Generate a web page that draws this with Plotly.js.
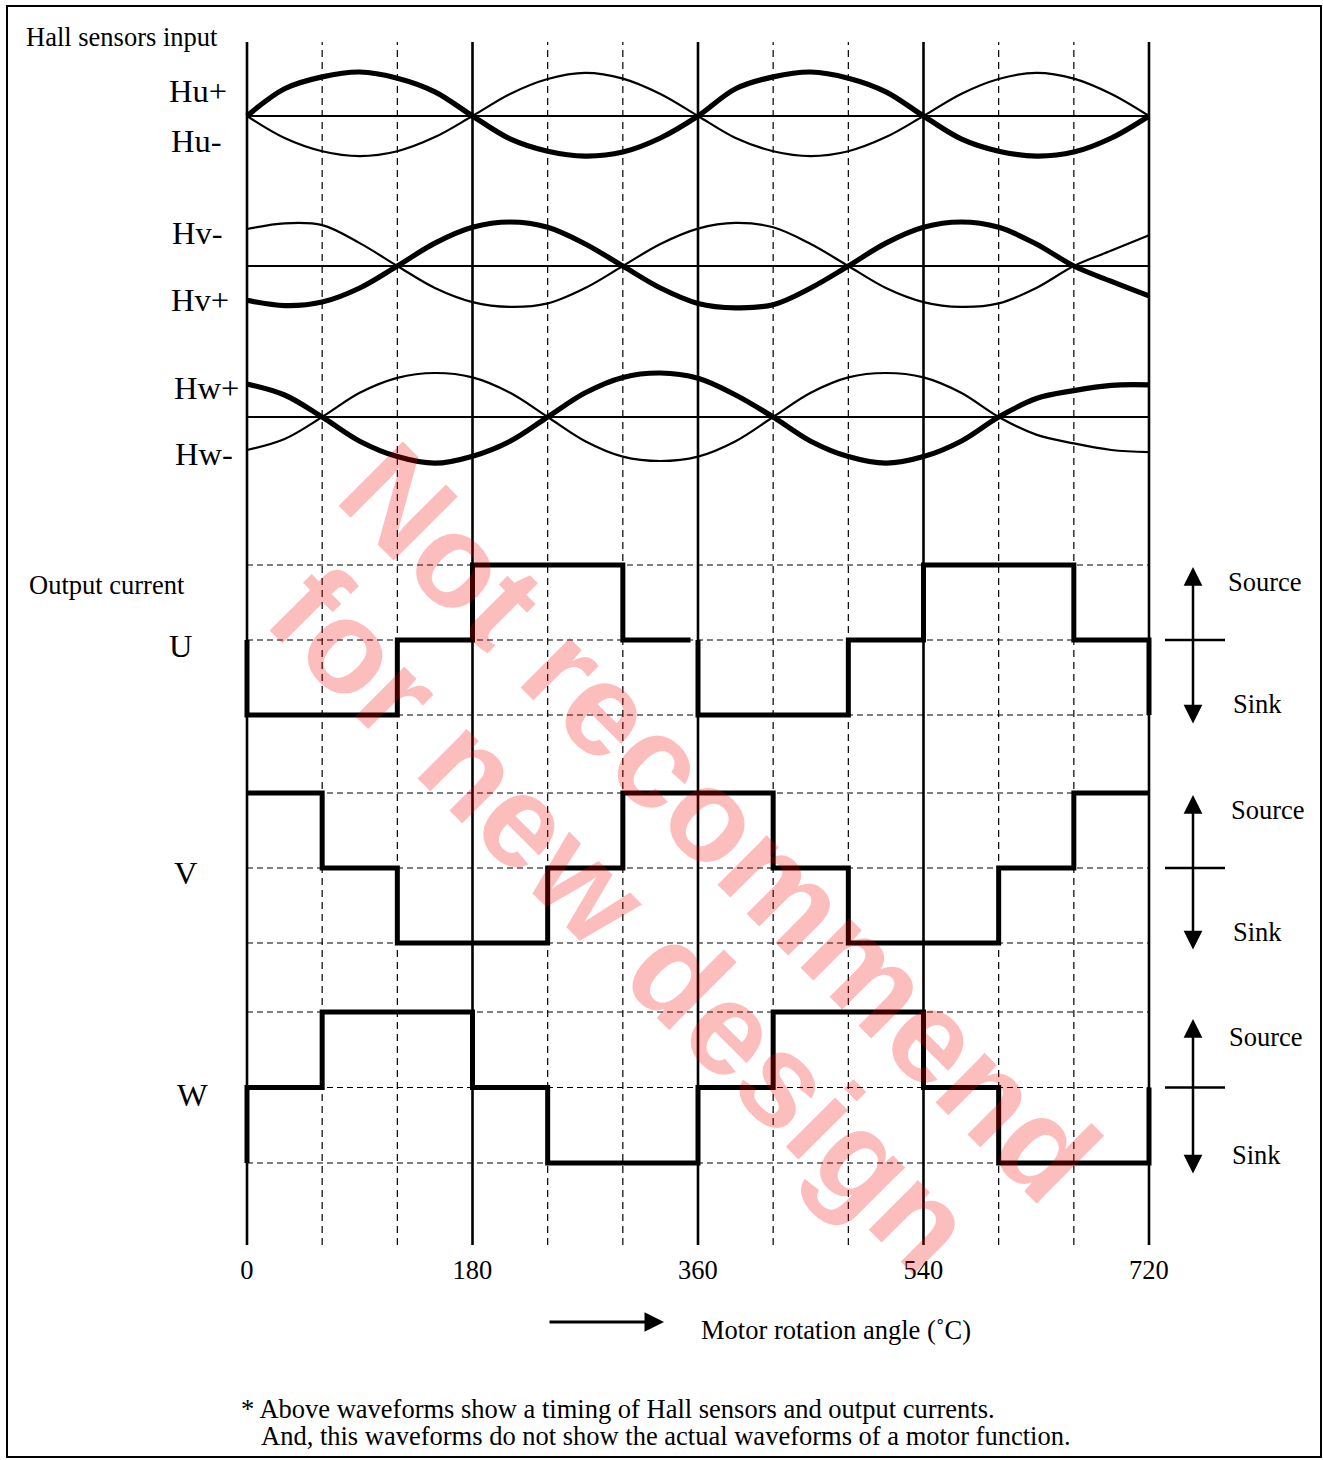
<!DOCTYPE html>
<html><head><meta charset="utf-8">
<script src="https://cdn.plot.ly/plotly-3.0.1.min.js"></script>
<style>html,body{margin:0;padding:0;background:#fff}</style>
</head><body>
<div id="chart" style="width:1323px;height:1460px"></div>
<script>
// ---------- data ----------
const HALL_ANGLE = [0,30,60,90,120,150,180,210,240,270,300,330,360,390,420,450,480,510,540,570,600,630,660,690,720];
const HU_PLUS  = [0,0.62,0.89,1.0,0.86,0.55,0,-0.52,-0.8,-0.91,-0.82,-0.5,0,0.62,0.89,1.0,0.86,0.55,0,-0.52,-0.8,-0.91,-0.82,-0.5,0];
const HU_MINUS = [0,-0.5,-0.8,-0.91,-0.8,-0.48,0,0.5,0.84,0.98,0.85,0.5,0,-0.5,-0.8,-0.91,-0.8,-0.48,0,0.5,0.84,0.98,0.85,0.5,0];
const HV_PLUS  = [-0.78,-0.9,-0.82,-0.5,0,0.52,0.88,1.0,0.88,0.5,0,-0.5,-0.85,-0.95,-0.88,-0.5,0,0.52,0.88,1.0,0.88,0.5,0,-0.35,-0.68];
const HV_MINUS = [0.84,0.97,0.93,0.52,0,-0.5,-0.82,-0.93,-0.85,-0.5,0,0.5,0.85,0.98,0.88,0.5,0,-0.5,-0.82,-0.93,-0.85,-0.5,0,0.35,0.7];
const HW_PLUS  = [0.75,0.5,0,-0.55,-0.9,-1.05,-0.89,-0.55,0,0.55,0.9,1.0,0.88,0.5,0,-0.55,-0.9,-1.05,-0.9,-0.55,0,0.42,0.6,0.72,0.73];
const HW_MINUS = [-0.75,-0.5,0,0.55,0.89,1.0,0.9,0.55,0,-0.55,-0.9,-1.0,-0.9,-0.55,0,0.55,0.9,1.0,0.9,0.55,0,-0.4,-0.6,-0.75,-0.8];

// output currents: 1 = source, 0 = off, -1 = sink
const U_ANGLE_A = [0,0,120,180,300,354];
const U_LEVEL_A = [0,-1,0,1,0,0];
const U_ANGLE_B = [360,360,480,540,660,720,720];
const U_LEVEL_B = [0,-1,0,1,0,0,-1];
const V_ANGLE = [0,60,120,240,300,420,480,600,660,720];
const V_LEVEL = [1,0,-1,0,1,0,-1,0,1,1];
const W_ANGLE = [0,0,60,180,240,360,420,540,600,720,720];
const W_LEVEL = [-1,0,1,0,-1,0,1,0,-1,-1,0];

const TICK_VALS = [0,180,360,540,720];
const TICK_TEXT = ['0','180','360','540','720'];
const MAJOR_ANGLES = [0,180,360,540,720];
const MINOR_ANGLES = [60,120,240,300,420,480,600,660];
const LEVELS = [-1,0,1];

// ---------- layout helpers ----------
const W = 1323, H = 1460;
const fx = p => p / W;
const fy = p => 1 - p / H;
const SERIF = 'Liberation Serif, Times New Roman, serif';
const PPD = (1149 - 247) / 720;           // pixels per degree
function yDom(c, a, R){ return [fy(c + R*a), fy(c - R*a)]; }
const HR = 1.3, OR = 1.12;
const TS = 26.5, LS = 32.5;

const hallStyle = (w) => ({color:'#000', width:w, shape:'spline', smoothing:1});
const outStyle = {color:'#000', width:5, shape:'hv'};

const traces = [
  {x:HALL_ANGLE, y:HU_MINUS, yaxis:'y',  line:hallStyle(2.2)},
  {x:HALL_ANGLE, y:HU_PLUS,  yaxis:'y',  line:hallStyle(5.2)},
  {x:HALL_ANGLE, y:HV_MINUS, yaxis:'y2', line:hallStyle(2.2)},
  {x:HALL_ANGLE, y:HV_PLUS,  yaxis:'y2', line:hallStyle(5.2)},
  {x:HALL_ANGLE, y:HW_MINUS, yaxis:'y3', line:hallStyle(2.2)},
  {x:HALL_ANGLE, y:HW_PLUS,  yaxis:'y3', line:hallStyle(5.2)},
  {x:U_ANGLE_A, y:U_LEVEL_A, yaxis:'y4', line:outStyle},
  {x:U_ANGLE_B, y:U_LEVEL_B, yaxis:'y4', line:outStyle},
  {x:V_ANGLE, y:V_LEVEL, yaxis:'y5', line:outStyle},
  {x:W_ANGLE, y:W_LEVEL, yaxis:'y6', line:outStyle}
].map(t => Object.assign({type:'scatter', mode:'lines', xaxis:'x', hoverinfo:'skip', showlegend:false}, t));

const hiddenY = (dom, R) => ({domain:dom, range:[-R,R], visible:false, anchor:'x', fixedrange:true});

const shapes = [];
// frame
shapes.push({type:'rect', xref:'paper', yref:'paper', x0:fx(7), x1:fx(1321), y0:fy(1457), y1:fy(6), line:{color:'#000', width:2}});
// vertical lines
MAJOR_ANGLES.forEach(a => shapes.push({type:'line', layer:'below', xref:'x', yref:'paper', x0:a, x1:a, y0:fy(1245), y1:fy(42), line:{color:'#000', width:2.6}}));
MINOR_ANGLES.forEach(a => shapes.push({type:'line', layer:'below', xref:'x', yref:'paper', x0:a, x1:a, y0:fy(1245), y1:fy(42), line:{color:'#000', width:1.2, dash:'7px,5px'}}));
// hall centre lines
['y','y2','y3'].forEach(ax => shapes.push({type:'line', layer:'below', xref:'x', yref:ax, x0:0, x1:720, y0:0, y1:0, line:{color:'#000', width:1.8}}));
// output level grid
['y4','y5','y6'].forEach(ax => LEVELS.forEach(l => shapes.push({type:'line', layer:'below', xref:'x', yref:ax, x0:0, x1:720, y0:l, y1:l, line:{color:'#000', width:1.2, dash:'6px,4px'}})));
// source/sink cross bars
['y4','y5','y6'].forEach(ax => shapes.push({type:'line', xref:'paper', yref:ax, x0:fx(1165), x1:fx(1225), y0:0, y1:0, line:{color:'#000', width:2.5}}));

const ann = [];
function txt(t, x, y, size, xanchor){
  ann.push({text:t, xref:'paper', yref:'paper', x:fx(x), y:fy(y), xanchor:xanchor||'left', yanchor:'middle', showarrow:false, font:{family:SERIF, size:size, color:'#000'}});
}
txt('Hall sensors input', 24, 37, TS);
txt('Hu+', 167, 91, LS);
txt('Hu-', 169, 141, LS);
txt('Hv-', 170, 233, LS);
txt('Hv+', 169, 300, LS);
txt('Hw+', 172, 388, LS);
txt('Hw-', 173, 454, LS);
txt('Output current', 27, 585, TS);
txt('U', 181, 646, LS, 'center');
txt('V', 186, 873, LS, 'center');
txt('W', 192, 1095, LS, 'center');
txt('Source', 1226, 582, TS); txt('Sink', 1231, 704, TS);
txt('Source', 1229, 810, TS); txt('Sink', 1231, 932, TS);
txt('Source', 1227, 1037, TS); txt('Sink', 1230, 1155, TS);
txt('Motor rotation angle (˚C)', 699, 1330, TS);
txt('* Above waveforms show a timing of Hall sensors and output currents.', 239, 1409, TS);
txt('And, this waveforms do not show the actual waveforms of a motor function.', 259, 1436, TS);

// double arrows Source/Sink
[[567,725],[795,951],[1019,1175]].forEach(p => ann.push({
  text:'', xref:'paper', yref:'paper', x:fx(1193), y:fy(p[0]), ax:0, ay:p[1]-p[0],
  showarrow:true, arrowside:'end+start', arrowhead:2, startarrowhead:2, arrowsize:1.5, startarrowsize:1.5,
  arrowwidth:2.5, arrowcolor:'#000', standoff:0, startstandoff:0
}));
// rotation arrow
ann.push({text:'', xref:'paper', yref:'paper', x:fx(664), y:fy(1322), ax:-116, ay:0, showarrow:true,
  arrowhead:2, arrowsize:1.3, arrowwidth:3, arrowcolor:'#000', standoff:0});

// watermark
const WM = {family:'Liberation Sans, Arial, sans-serif', size:132, color:'rgba(245,0,0,0.26)', weight:'bold'};
ann.push({text:'Not recommend', xref:'paper', yref:'paper', x:fx(720), y:fy(822), textangle:45, showarrow:false, xanchor:'center', yanchor:'middle', font:WM});
ann.push({text:'for new design', xref:'paper', yref:'paper', x:fx(622), y:fy(918), textangle:45, showarrow:false, xanchor:'center', yanchor:'middle', font:WM});

const layout = {
  width:W, height:H, margin:{l:0,r:0,t:0,b:0}, paper_bgcolor:'#fff', plot_bgcolor:'rgba(0,0,0,0)',
  showlegend:false, hovermode:false,
  xaxis:{domain:[fx(247 - 12*PPD), fx(1149 + 12*PPD)], range:[-12,732], anchor:'free', position:fy(1251),
         showgrid:false, zeroline:false, showline:false, ticks:'', tickvals:TICK_VALS, ticktext:TICK_TEXT,
         tickfont:{family:SERIF, size:TS, color:'#000'}, fixedrange:true},
  yaxis:  hiddenY(yDom(116, 44, HR), HR),
  yaxis2: hiddenY(yDom(266, 44, HR), HR),
  yaxis3: hiddenY(yDom(417, 44, HR), HR),
  yaxis4: hiddenY(yDom(640, 75, OR), OR),
  yaxis5: hiddenY(yDom(868, 75, OR), OR),
  yaxis6: hiddenY(yDom(1087.5, 75.5, OR), OR),
  shapes:shapes, annotations:ann
};
Plotly.newPlot('chart', traces, layout, {staticPlot:true, displayModeBar:false});
</script>
</body></html>
